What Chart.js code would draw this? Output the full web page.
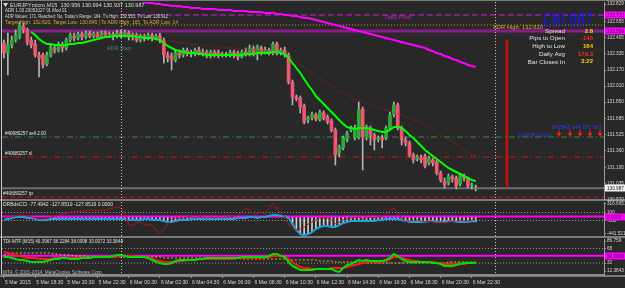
<!DOCTYPE html>
<html>
<head>
<meta charset="utf-8">
<script src="https://cdn.jsdelivr.net/npm/chart.js@4.4.0/dist/chart.umd.min.js"></script>
<style>
  html, body { margin: 0; padding: 0; width: 625px; height: 288px; overflow: hidden; background: #282828; }
  .band { position: absolute; left: 0; width: 625px; background: #7a7a7a; }
  canvas { position: absolute; left: 0; }
</style>
</head>
<body>
<div class="band" style="top:0;height:1px"></div>
<div class="band" style="top:199px;height:2px"></div>
<div class="band" style="top:236px;height:2px"></div>
<div class="band" style="top:275px;height:2px"></div>
<div style="position:absolute;left:1px;top:0;width:1px;height:276px;background:#c8c8c8"></div>
<canvas id="mainChart" width="625" height="203" style="top:0"></canvas>
<canvas id="cciChart" width="625" height="37" style="top:201px"></canvas>
<canvas id="tdiChart" width="625" height="50" style="top:238px"></canvas>
<script>
// --- DATA: EURJPYmicro M15, 5 Mar 16:30 .. 6 Mar 22:45 (122 bars) ---
const opens = [
  132.44,132.34,132.42,132.47,132.50,132.61,132.57,132.47,132.43,132.32,
  132.32,132.23,132.32,132.39,132.37,132.42,132.39,132.47,132.51,132.49,
  132.53,132.50,132.54,132.51,132.53,132.50,132.54,132.52,132.53,132.51,
  132.54,132.51,132.54,132.50,132.52,132.47,132.51,132.49,132.52,132.50,
  132.51,132.47,132.32,132.31,132.27,132.34,132.32,132.37,132.34,132.33,
  132.37,132.34,132.35,132.31,132.35,132.35,132.32,132.33,132.32,132.35,
  132.34,132.30,132.35,132.33,132.38,132.34,132.39,132.35,132.37,132.34,
  132.43,132.35,132.37,132.32,132.05,131.90,131.89,131.81,131.67,131.69,
  131.72,131.67,131.74,131.70,131.66,131.57,131.34,131.39,131.47,131.57,
  131.49,131.50,131.78,131.49,131.59,131.52,131.48,131.49,131.49,131.59,
  131.72,131.82,131.59,131.47,131.44,131.32,131.28,131.29,131.31,131.24,
  131.27,131.25,131.14,131.06,131.04,131.10,131.09,131.03,131.11,131.08,
  131.01,130.975];
const highs = [
  132.47,132.54,132.51,132.57,132.65,132.64,132.59,132.50,132.47,132.35,
  132.34,132.35,132.42,132.42,132.45,132.45,132.49,132.54,132.54,132.55,
  132.55,132.56,132.56,132.55,132.55,132.56,132.56,132.55,132.55,132.57,
  132.57,132.57,132.56,132.54,132.54,132.53,132.53,132.54,132.54,132.53,
  132.54,132.49,132.35,132.34,132.36,132.37,132.39,132.39,132.37,132.39,
  132.40,132.38,132.37,132.37,132.37,132.37,132.35,132.35,132.37,132.37,
  132.36,132.37,132.39,132.42,132.41,132.42,132.41,132.40,132.39,132.45,
  132.45,132.39,132.40,132.34,132.07,131.92,131.91,131.83,131.71,131.75,
  131.74,131.77,131.76,131.72,131.68,131.59,131.42,131.51,131.56,131.61,
  131.62,131.85,131.80,131.62,131.61,131.54,131.51,131.52,131.61,131.75,
  131.85,131.84,131.61,131.50,131.46,131.34,131.32,131.32,131.33,131.31,
  131.29,131.27,131.16,131.09,131.13,131.12,131.11,131.14,131.13,131.10,
  131.04,131.02];
const lows = [
  132.29,132.12,132.39,132.45,132.48,132.54,132.42,132.39,132.30,132.10,
  132.19,132.21,132.30,132.34,132.35,132.35,132.37,132.45,132.46,132.47,
  132.47,132.48,132.49,132.49,132.48,132.49,132.50,132.50,132.47,132.49,
  132.49,132.50,132.47,132.47,132.45,132.45,132.46,132.47,132.46,132.47,
  132.44,132.24,132.25,132.17,132.25,132.29,132.30,132.31,132.30,132.31,
  132.32,132.31,132.29,132.29,132.30,132.29,132.30,132.30,132.30,132.29,
  132.27,132.29,132.31,132.31,132.31,132.27,132.32,132.33,132.32,132.32,
  132.32,132.32,132.30,132.03,131.82,131.86,131.74,131.63,131.64,131.67,
  131.66,131.66,131.67,131.63,131.55,131.22,131.30,131.37,131.45,131.55,
  131.47,131.48,131.17,131.47,131.42,131.37,131.45,131.39,131.47,131.57,
  131.70,131.57,131.42,131.41,131.30,131.24,131.26,131.24,131.19,131.22,
  131.21,131.12,131.05,130.99,131.02,131.05,130.98,131.01,131.06,130.99,
  130.98,130.96];
const closes = [
  132.34,132.42,132.47,132.52,132.62,132.57,132.45,132.42,132.32,132.29,
  132.22,132.32,132.40,132.37,132.43,132.39,132.47,132.52,132.49,132.53,
  132.50,132.54,132.51,132.53,132.50,132.54,132.52,132.53,132.51,132.54,
  132.51,132.55,132.50,132.52,132.47,132.51,132.49,132.52,132.50,132.51,
  132.47,132.32,132.29,132.27,132.34,132.32,132.37,132.34,132.33,132.37,
  132.34,132.35,132.31,132.35,132.33,132.31,132.33,132.32,132.35,132.32,
  132.30,132.35,132.33,132.39,132.34,132.40,132.35,132.37,132.34,132.43,
  132.34,132.37,132.32,132.05,131.90,131.88,131.80,131.65,131.69,131.73,
  131.68,131.75,131.69,131.65,131.57,131.32,131.40,131.49,131.54,131.59,
  131.59,131.77,131.50,131.59,131.52,131.47,131.49,131.47,131.59,131.72,
  131.82,131.59,131.47,131.44,131.32,131.27,131.30,131.27,131.21,131.29,
  131.24,131.14,131.07,131.02,131.11,131.08,131.01,131.12,131.09,131.01,
  131.02,130.987];

// moving averages on the price window
const fastMa = [
  null,null,null,null,null,null,null,132.55,132.52,132.48,
  132.45,132.43,132.43,132.42,132.42,132.42,132.42,132.43,132.43,132.44,
  132.44,132.45,132.46,132.47,132.48,132.49,132.50,132.50,132.51,132.51,
  132.51,132.51,132.51,132.51,132.50,132.50,132.49,132.49,132.49,132.48,
  132.47,132.44,132.41,132.39,132.37,132.36,132.35,132.34,132.34,132.34,
  132.33,132.33,132.32,132.32,132.32,132.32,132.32,132.32,132.32,132.32,
  132.32,132.32,132.33,132.33,132.33,132.34,132.34,132.34,132.34,132.35,
  132.35,132.34,132.33,132.29,132.24,132.19,132.14,132.08,132.02,131.97,
  131.91,131.87,131.83,131.79,131.75,131.71,131.67,131.63,131.60,131.59,
  131.58,131.59,131.59,131.59,131.58,131.57,131.56,131.55,131.55,131.57,
  131.60,131.60,131.59,131.56,131.52,131.49,131.45,131.41,131.37,131.34,
  131.31,131.28,131.25,131.22,131.19,131.17,131.15,131.13,131.11,131.09,
  131.07,131.06];
const slowMa = [
  null,null,null,null,null,null,null,null,null,null,
  null,null,null,null,null,null,null,null,null,null,
  null,null,null,132.52,132.52,132.52,132.52,132.51,132.51,132.51,
  132.51,132.50,132.50,132.50,132.49,132.49,132.49,132.48,132.48,132.48,
  132.47,132.47,132.46,132.46,132.45,132.45,132.44,132.44,132.43,132.43,
  132.42,132.42,132.41,132.41,132.40,132.40,132.40,132.39,132.39,132.39,
  132.38,132.38,132.38,132.37,132.37,132.37,132.36,132.36,132.36,132.35,
  132.35,132.35,132.34,132.32,132.29,132.26,132.23,132.20,132.17,132.14,
  132.11,132.09,132.06,132.04,132.01,131.99,131.96,131.94,131.92,131.90,
  131.88,131.87,131.85,131.84,131.82,131.81,131.79,131.78,131.77,131.76,
  131.74,131.73,131.72,131.70,131.69,131.67,131.66,131.64,131.62,131.60,
  131.57,131.55,131.52,131.50,131.47,131.45,131.42,131.40,131.37,131.35,
  131.32,131.31];
const trendMa = [
  null,null,null,null,null,null,null,null,null,null,
  null,null,null,null,null,null,null,null,null,null,
  null,null,null,null,null,null,null,null,null,null,
  null,null,null,null,null,132.86,132.85,132.84,132.84,132.83,
  132.83,132.82,132.82,132.81,132.81,132.81,132.80,132.80,132.79,132.79,
  132.79,132.78,132.78,132.78,132.78,132.77,132.77,132.77,132.77,132.76,
  132.76,132.76,132.76,132.75,132.75,132.75,132.75,132.74,132.74,132.74,
  132.73,132.73,132.72,132.72,132.71,132.71,132.70,132.69,132.69,132.68,
  132.67,132.66,132.65,132.64,132.63,132.62,132.61,132.60,132.59,132.58,
  132.57,132.56,132.55,132.54,132.53,132.52,132.51,132.50,132.49,132.48,
  132.47,132.46,132.45,132.44,132.43,132.42,132.41,132.40,132.39,132.37,
  132.36,132.34,132.33,132.31,132.30,132.28,132.27,132.25,132.24,132.22,
  132.21,132.20];

// horizontal levels
const dailyPivot = 132.720;
const adrHigh = 132.620;
const prevLevel = 132.559;
const sellPrice = 131.500;
const stopLoss = 131.300;
const takeProfit = 130.900;
const bidPrice = 130.987;
const adrBarIdx = 129;
const adrBarRange = [131.00, 132.47];
const dayStarts = [30, 126];
const levelFrom = 30;

const priceTicks = [132.829, 132.655, 132.495, 132.335, 132.170, 132.010, 131.850,
  131.685, 131.525, 131.360, 131.195, 131.035, 130.870];

// DRBdsCCI window
const cciSlow = [
  -88,-63,-38,-13,-13,-13,-38,-38,-63,-88,
  -88,-88,-63,-63,-63,-63,-63,-63,-63,-63,
  -63,-63,-63,-63,-63,-63,-63,-63,-63,-63,
  -63,-63,-88,-88,-88,-88,-63,-63,-88,-88,
  -88,-114,-139,-139,-114,-88,-88,-88,-63,-63,
  -63,-63,-63,-63,-63,-63,-63,-63,-63,-63,
  -38,-38,-38,-13,-13,-38,-13,-13,13,38,
  38,13,13,-38,-190,-341,-442,-468,-442,-392,
  -316,-265,-240,-240,-265,-265,-215,-164,-139,-114,
  -114,-114,-114,-114,-114,-114,-88,-88,-63,-63,
  -63,-63,-88,-114,-139,-139,-139,-139,-139,-114,
  -114,-139,-139,-139,-114,-114,-139,-139,-139,-139,
  -114,-128];
const cciFast = [
  -13,-13,-13,13,38,38,13,-13,-38,-63,
  -63,-38,-13,13,38,63,88,114,114,139,
  139,139,164,164,139,164,164,190,215,240,
  215,63,-190,-240,-164,-139,-215,-190,-240,-341,
  -417,-341,-190,-63,-38,-38,-38,-13,-13,-38,
  -13,-13,-38,-13,-38,-13,-38,-13,-13,13,
  38,114,215,164,13,88,114,63,215,341,
  190,63,13,-190,-316,-341,-316,-265,-190,-139,
  -88,-38,-38,-38,-88,-190,-139,-88,-63,-38,
  -38,-13,-63,-38,-13,-38,-13,13,63,139,
  215,88,-38,-139,-114,-88,-88,-114,-139,-114,
  -139,-139,-139,-164,-139,-114,-139,-88,-114,-114,
  -88,-77];
const histStart = 12;
const cciLevels = [100, -100];
const cciTicks = [316.6651, 100, 0, -100, -441.5213];

// TDI-MTF window
const tdiPrice = [
  47.1,47.1,44.6,42.1,39.7,39.7,37.2,34.7,34.7,34.7,
  34.7,37.2,39.7,42.1,42.1,44.6,44.6,42.1,42.1,42.1,
  44.6,44.6,44.6,47.1,47.1,47.1,47.1,47.1,49.6,52.1,
  52.1,49.6,47.1,47.1,47.1,47.1,47.1,44.6,39.7,34.7,
  32.2,29.7,29.7,32.2,37.2,39.7,39.7,39.7,39.7,39.7,
  42.1,42.1,44.6,44.6,44.6,44.6,44.6,44.6,44.6,44.6,
  44.6,47.1,47.1,47.1,47.1,47.1,47.1,47.1,49.6,54.5,
  54.5,49.6,47.1,34.7,24.8,19.8,14.9,14.9,14.9,14.9,
  17.4,17.4,17.4,17.4,17.4,12.4,9.9,19.8,27.3,29.7,
  34.7,39.7,37.2,39.7,37.2,37.2,37.2,37.2,39.7,44.6,
  54.5,49.6,42.1,37.2,34.7,34.7,34.7,34.7,34.7,34.7,
  32.2,32.2,29.7,24.8,24.8,24.8,27.3,29.7,32.2,32.2,
  32.2,33.0];
const tdiSignal = [
  59.5,57.0,54.5,52.1,49.6,47.1,44.6,44.6,44.6,42.1,
  42.1,42.1,42.1,44.6,44.6,44.6,44.6,44.6,44.6,44.6,
  44.6,44.6,44.6,47.1,47.1,47.1,47.1,47.1,47.1,49.6,
  49.6,49.6,49.6,49.6,47.1,47.1,47.1,44.6,42.1,39.7,
  37.2,34.7,34.7,34.7,34.7,37.2,37.2,39.7,39.7,39.7,
  42.1,42.1,42.1,42.1,42.1,42.1,42.1,42.1,42.1,42.1,
  44.6,44.6,44.6,44.6,44.6,44.6,44.6,47.1,47.1,49.6,
  49.6,49.6,47.1,42.1,34.7,27.3,22.3,19.8,19.8,17.4,
  17.4,17.4,17.4,17.4,19.8,19.8,19.8,19.8,22.3,24.8,
  27.3,29.7,32.2,34.7,34.7,34.7,34.7,34.7,37.2,42.1,
  47.1,47.1,44.6,42.1,39.7,37.2,37.2,34.7,34.7,34.7,
  34.7,32.2,32.2,29.7,29.7,29.7,29.7,29.7,29.7,32.2,
  32.2,33.4];
const tdiBase = [
  52.1,54.5,57.0,57.0,57.0,57.0,57.0,57.0,57.0,57.0,
  57.0,57.0,57.0,54.5,54.5,52.1,52.1,52.1,49.6,49.6,
  49.6,49.6,47.1,47.1,47.1,47.1,47.1,47.1,47.1,47.1,
  47.1,47.1,47.1,47.1,47.1,47.1,47.1,47.1,47.1,47.1,
  47.1,44.6,44.6,44.6,44.6,44.6,44.6,44.6,44.6,44.6,
  44.6,44.6,44.6,44.6,44.6,44.6,44.6,44.6,44.6,44.6,
  44.6,42.1,42.1,42.1,42.1,42.1,42.1,42.1,42.1,42.1,
  42.1,42.1,42.1,39.7,39.7,39.7,39.7,39.7,39.7,39.7,
  39.7,37.2,37.2,37.2,37.2,34.7,34.7,34.7,34.7,34.7,
  34.7,34.7,32.2,32.2,32.2,32.2,32.2,32.2,32.2,32.2,
  32.2,32.2,32.2,32.2,32.2,32.2,32.2,32.2,32.2,32.2,
  32.2,32.2,32.2,32.2,34.7,34.7,34.7,34.7,34.7,34.7,
  34.7,34.7];
const tdiLevels = [68, 32];
const tdiMid = 50;
const tdiTicks = [86.759, 68, 50, 32, 12.3843];

const timeTicks = [0, 8, 16, 24, 32, 40, 48, 56, 64, 72, 80, 88, 96, 104, 112, 120];
const timeLabels = ['5 Mar 2015', '5 Mar 18:30', '5 Mar 20:30', '5 Mar 22:30', '6 Mar 00:30',
  '6 Mar 02:30', '6 Mar 04:30', '6 Mar 06:30', '6 Mar 08:30', '6 Mar 10:30', '6 Mar 12:30',
  '6 Mar 14:30', '6 Mar 16:30', '6 Mar 18:30', '6 Mar 20:30', '6 Mar 22:30'];

// --- SETUP ---
const FONT = '"Liberation Sans", Arial, sans-serif';
Chart.defaults.font.family = FONT;
Chart.defaults.color = '#d6d6d6';

const X_MIN = -0.5, X_MAX = 153.9;
const pts = arr => arr.map((v, i) => ({ x: i, y: v }));
const hline = (from, level) => [{ x: from, y: level }, { x: X_MAX, y: level }];
const lineDs = (data, color, width, dash, order) => ({
  type: 'line', data, borderColor: color, borderWidth: width, borderDash: dash || [],
  pointRadius: 0, fill: false, order
});

const hiddenX = { type: 'linear', min: X_MIN, max: X_MAX, offset: false, display: false };

const rightAxis = (min, max, ticks, fmt) => ({
  position: 'right', min, max,
  afterBuildTicks: s => { s.ticks = ticks.map(v => ({ value: v })); },
  afterFit: s => { s.width = 21; s.paddingTop = 0; s.paddingBottom = 0; },
  ticks: { autoSkip: false, padding: 1, color: '#d6d6d6', font: { size: 4.7 }, callback: fmt },
  grid: { drawOnChartArea: false, tickLength: 2, color: '#9a9a9a' },
  border: { color: '#9a9a9a' }
});

const baseOpts = {
  responsive: false, animation: false, devicePixelRatio: 1, events: [],
  plugins: { legend: { display: false }, tooltip: { enabled: false } }
};

// dotted day separators
const daySep = {
  id: 'daySep',
  afterDatasetsDraw(chart) {
    const { ctx, chartArea: a, scales: { x } } = chart;
    ctx.save();
    ctx.strokeStyle = '#c4c4c4'; ctx.lineWidth = 1; ctx.setLineDash([1, 2]);
    dayStarts.forEach(d => {
      const px = Math.round(x.getPixelForValue(d)) + 0.5;
      ctx.beginPath(); ctx.moveTo(px, a.top); ctx.lineTo(px, a.bottom); ctx.stroke();
    });
    ctx.restore();
  }
};

// highlighted price boxes on the right axis
const axisBoxes = (id, boxes) => ({
  id,
  afterDraw(chart) {
    const { ctx, scales: { y } } = chart;
    ctx.save();
    ctx.textBaseline = 'middle'; ctx.textAlign = 'left';
    ctx.font = '4.7px ' + FONT;
    boxes.forEach(b => {
      const py = Math.round(y.getPixelForValue(b.value));
      ctx.fillStyle = b.bg; ctx.fillRect(605, py - 3.5, 20, 7);
      ctx.fillStyle = b.fg; ctx.fillText(b.text, 607, py + 0.5, 17);
    });
    ctx.restore();
  }
});

function put(ctx, s, x, y, color, size, align, maxW, weight) {
  ctx.font = (weight || '') + ' ' + size + 'px ' + FONT;
  ctx.fillStyle = color; ctx.textAlign = align || 'left'; ctx.textBaseline = 'middle';
  if (maxW) ctx.fillText(s, x, y, maxW); else ctx.fillText(s, x, y);
}

const mainNotes = {
  id: 'mainNotes',
  afterDraw(chart) {
    const ctx = chart.ctx;
    ctx.save();
    // header
    ctx.fillStyle = '#dcdcdc';
    ctx.beginPath(); ctx.moveTo(3, 3); ctx.lineTo(8, 3); ctx.lineTo(5.5, 7); ctx.closePath(); ctx.fill();
    put(ctx, 'EURJPYmicro,M15  130.956 130.994 130.937 130.987', 10, 5, '#dcdcdc', 5.5, 'left', 155);
    put(ctx, 'ADR 1.00 20051027 01 Mod 01', 5, 11, '#dcdcdc', 5, 'left', 62);
    put(ctx, "ADR Values: 171, Reached: No, Today's Range: 164, T's High: 132.553, T's Low: 130.912", 5, 17, '#dcdcdc', 5, 'left', 163);
    put(ctx, 'Target High: 132.620, Target Low: 130.845 | To ADR High: 165, To ADR Low: 14', 5, 23, '#e2a43a', 5, 'left', 173);
    put(ctx, 'ADR Start', 107, 48, '#4f8283', 6, 'left', 24);
    put(ctx, 'Daily Pivot', 385, 17, '#d51fd5', 5.5, 'left', 26);
    put(ctx, 'ADR High: 132.620', 493, 27, '#e2a43a', 5.8, 'left', 54);
    // info panel
    put(ctx, '130.987', 593, 20, '#1414ff', 17, 'right', 52);
    const infoNames = ['Spread', 'Pips to Open', 'High to Low', 'Daily Avg', 'Bar Closes In'];
    const infoVals = ['2.8', '-145', '164', '179.3', '3:22'];
    const infoCols = ['#ffd400', '#ff2a2a', '#ffd400', '#ff2a2a', '#ffd400'];
    infoNames.forEach((n, k) => {
      const yy = 31 + k * 7.7;
      put(ctx, n, 565, yy, '#e4e4e4', 6.2, 'right');
      put(ctx, infoVals[k], 593, yy, infoCols[k], 6, 'right', null, 'bold');
    });
    // order labels
    put(ctx, '#40680257 sell 2.00', 5, 134, '#e4e4e4', 5, 'left', 41);
    put(ctx, '#40680257 sl', 5, 154, '#e4e4e4', 5, 'left', 27);
    put(ctx, '#40680257 tp', 3, 194, '#e4e4e4', 5, 'left', 30);
    // multi timeframe signals
    put(ctx, 'EURJPYmicro', 518, 135, '#2a3cff', 6, 'left', 34);
    const tfs = ['M15', 'H1', 'H4', 'D1', 'W1'];
    const tfX = [552, 563, 573, 583, 593];
    tfs.forEach((t, k) => {
      put(ctx, t, tfX[k], 127, '#2a3cff', 6, 'left');
      const cx = tfX[k] + 7;
      ctx.strokeStyle = '#ff1a1a'; ctx.fillStyle = '#ff1a1a'; ctx.lineWidth = 1.2;
      ctx.beginPath(); ctx.moveTo(cx, 130); ctx.lineTo(cx, 134); ctx.stroke();
      ctx.beginPath(); ctx.moveTo(cx - 2.5, 133); ctx.lineTo(cx + 2.5, 133); ctx.lineTo(cx, 136.5); ctx.closePath(); ctx.fill();
    });
    ctx.restore();
  }
};

// --- 1. PRICE WINDOW ---
new Chart(document.getElementById('mainChart'), {
  type: 'bar',
  data: {
    datasets: [
      lineDs(pts(fastMa), '#00ff00', 2, null, 1),
      lineDs(pts(slowMa), '#c81a1a', 1, [1, 2], 2),
      lineDs(pts(trendMa), '#ff00ff', 2, null, 3),
      {
        data: opens.map((o, i) => ({ x: i, y: [o, closes[i]] })),
        backgroundColor: closes.map((c, i) => c >= opens[i] ? '#2fa83a' : '#f0566e'),
        barThickness: 3, minBarLength: 1, grouped: false, order: 4
      },
      {
        data: lows.map((l, i) => ({ x: i, y: [l, highs[i]] })),
        backgroundColor: '#b4b4b4', barThickness: 1, grouped: false, order: 5
      },
      lineDs(hline(levelFrom, dailyPivot), '#d51fd5', 1, [6, 3], 6),
      lineDs(hline(levelFrom, adrHigh), '#d9a030', 1, [1, 2], 6),
      lineDs(hline(X_MIN, prevLevel), '#8a1d8a', 3, null, 6),
      lineDs(hline(X_MIN, sellPrice), '#3d8c3d', 1, [6, 3, 1, 3], 6),
      lineDs(hline(X_MIN, stopLoss), '#d81010', 1, [6, 3, 1, 3], 6),
      lineDs(hline(X_MIN, takeProfit), '#d81010', 1, [5, 3], 6),
      lineDs(hline(X_MIN, bidPrice), '#6e6e6e', 2, null, 7),
      {
        data: [{ x: adrBarIdx, y: adrBarRange }],
        backgroundColor: '#c81010', barThickness: 2, grouped: false, order: 6
      }
    ]
  },
  options: {
    ...baseOpts,
    layout: { padding: { left: 2, top: 2, right: 0, bottom: 4 }, autoPadding: false },
    scales: {
      x: hiddenX,
      y: rightAxis(130.88, 132.85, priceTicks, v => v.toFixed(3))
    }
  },
  plugins: [daySep, mainNotes, axisBoxes('mainBoxes', [
    { value: dailyPivot, text: dailyPivot.toFixed(3), bg: '#ff00ff', fg: '#3b003b' },
    { value: prevLevel, text: prevLevel.toFixed(3), bg: '#ff00ff', fg: '#3b003b' },
    { value: bidPrice, text: bidPrice.toFixed(3), bg: '#f2f2f2', fg: '#202020' }
  ])]
});

// --- 2. CCI WINDOW ---
const cciNotes = {
  id: 'cciNotes',
  afterDraw(chart) {
    const ctx = chart.ctx;
    ctx.save();
    put(ctx, 'DRBdsCCI -77.4942 -127.8519 -127.8519 0.0000', 3, 3.5, '#e0e0e0', 5, 'left', 112);
    ctx.restore();
  }
};
new Chart(document.getElementById('cciChart'), {
  type: 'bar',
  data: {
    datasets: [
      lineDs(pts(cciFast), '#b01818', 1, null, 1),
      lineDs(pts(cciSlow), '#1f9fe0', 2, null, 2),
      lineDs(hline(X_MIN, 0), '#ff00ff', 2, null, 3),
      {
        data: pts(cciSlow.map((v, i) => i >= histStart ? v : null)),
        backgroundColor: '#cfcfcf', barThickness: 1, grouped: false, order: 4
      },
      lineDs(hline(X_MIN, cciLevels[0]), '#9a9a9a', 1, [1, 2], 5),
      lineDs(hline(X_MIN, cciLevels[1]), '#9a9a9a', 1, [1, 2], 5)
    ]
  },
  options: {
    ...baseOpts,
    layout: { padding: { left: 2, top: 1, right: 0, bottom: 2 }, autoPadding: false },
    scales: {
      x: hiddenX,
      y: rightAxis(-492.1, 367.2, cciTicks, v => (v === 100 || v === -100) ? String(v) : v.toFixed(4))
    }
  },
  plugins: [daySep, cciNotes, axisBoxes('cciBoxes', [
    { value: 0, text: '0.0000', bg: '#ff00ff', fg: '#3b003b' }
  ])]
});

// --- 3. TDI WINDOW + TIME AXIS ---
const tdiNotes = {
  id: 'tdiNotes',
  afterDraw(chart) {
    const ctx = chart.ctx;
    ctx.save();
    put(ctx, 'TDI-MTF [M15] 40.3967 38.2284 38.0098 33.0072 33.3844', 3, 4, '#e0e0e0', 5, 'left', 120);
    put(ctx, 'MT4, \u00a9 2001-2014, MetaQuotes Software Corp.', 3, 34.5, '#b8b8b8', 5, 'left', 100);
    ctx.restore();
  }
};
new Chart(document.getElementById('tdiChart'), {
  type: 'line',
  data: {
    datasets: [
      lineDs(pts(tdiPrice), '#00e000', 2, null, 1),
      lineDs(pts(tdiSignal), '#ff1a1a', 2, null, 2),
      lineDs(pts(tdiBase), '#d8c020', 1, [2, 2], 3),
      lineDs(hline(X_MIN, tdiMid), '#ff00ff', 2, null, 4),
      lineDs(hline(X_MIN, tdiLevels[0]), '#9a9a9a', 1, [1, 2], 5),
      lineDs(hline(X_MIN, tdiLevels[1]), '#9a9a9a', 1, [1, 2], 5)
    ]
  },
  options: {
    ...baseOpts,
    layout: { padding: { left: 2, top: 1, right: 0, bottom: 0 }, autoPadding: false },
    scales: {
      x: {
        type: 'linear', min: X_MIN, max: X_MAX, offset: false,
        afterBuildTicks: s => { s.ticks = timeTicks.map(v => ({ value: v })); },
        afterFit: s => { s.height = 13; s.paddingLeft = 0; s.paddingRight = 0; },
        ticks: {
          autoSkip: false, maxRotation: 0, align: 'start', padding: 2, labelOffset: 1,
          color: '#d6d6d6', font: { size: 5.1 },
          callback: (v, k) => timeLabels[k]
        },
        grid: { drawOnChartArea: false, tickLength: 3, color: '#9a9a9a' },
        border: { color: '#8a8a8a', width: 2 }
      },
      y: rightAxis(2.48, 91.72, tdiTicks, v => v === 50 ? v.toFixed(4) : String(v))
    }
  },
  plugins: [daySep, tdiNotes, axisBoxes('tdiBoxes', [
    { value: tdiMid, text: '50.0000', bg: '#ff00ff', fg: '#3b003b' }
  ])]
});
</script>
</body>
</html>
